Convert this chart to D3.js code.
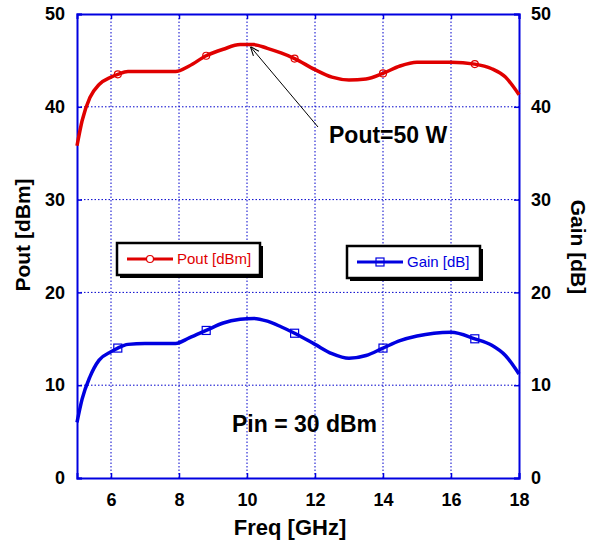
<!DOCTYPE html>
<html>
<head>
<meta charset="utf-8">
<script src="https://cdn.jsdelivr.net/npm/d3@7"></script>
<style>
body { margin: 0; background: #fff; }
text { font-family: "Liberation Sans", Arial, sans-serif; }
</style>
</head>
<body>
<div id="chart"></div>
<script>
// data
const freq = [5, 5.15, 5.38, 5.65, 6, 6.2, 6.5, 7, 7.5, 7.9, 8.3, 8.8, 9.3, 9.8, 10.2, 10.6, 11, 11.4, 12, 12.5, 13, 13.5, 14, 14.5, 15, 15.5, 16, 16.7, 17.2, 17.6, 18];
const pout = [35.8, 38.5, 41.0, 42.4, 43.2, 43.5, 43.8, 43.8, 43.8, 43.8, 44.4, 45.5, 46.2, 46.7, 46.7, 46.3, 45.8, 45.2, 44.0, 43.2, 42.9, 43.0, 43.6, 44.4, 44.8, 44.8, 44.8, 44.6, 44.1, 43.2, 41.3];
const gain = [6.0, 8.5, 10.9, 12.7, 13.6, 14.0, 14.4, 14.5, 14.5, 14.5, 15.1, 15.9, 16.7, 17.1, 17.2, 16.9, 16.3, 15.6, 14.4, 13.4, 12.9, 13.2, 14.0, 14.8, 15.3, 15.6, 15.7, 15.0, 14.3, 13.2, 11.2];
const markerFreq = [6.2, 8.8, 11.4, 14, 16.7];
const xTicks = [6, 8, 10, 12, 14, 16, 18];
const yTicks = [0, 10, 20, 30, 40, 50];

const width = 613, height = 546;
const m = { left: 77, right: 94, top: 14, bottom: 68 };

const svg = d3.select("#chart").append("svg")
    .attr("width", width)
    .attr("height", height);

const x = d3.scaleLinear().domain([5, 18]).range([m.left, width - m.right]);
const y = d3.scaleLinear().domain([0, 50]).range([height - m.bottom, m.top]);
const y2 = d3.scaleLinear().domain([0, 50]).range([height - m.bottom, m.top]);

const blue = "#0000cc";
const red = "#e00000";
const plotBlue = "#0000e0";

// grid
svg.append("g").selectAll("line")
    .data(xTicks.filter(d => d < 18))
    .enter().append("line")
    .attr("x1", d => x(d)).attr("x2", d => x(d))
    .attr("y1", y(0)).attr("y2", y(50))
    .attr("stroke", blue).attr("stroke-width", 1)
    .attr("stroke-dasharray", "1.5,2");

svg.append("g").selectAll("line")
    .data(yTicks.filter(d => d > 0 && d < 50))
    .enter().append("line")
    .attr("x1", x(5)).attr("x2", x(18))
    .attr("y1", d => y(d)).attr("y2", d => y(d))
    .attr("stroke", blue).attr("stroke-width", 1)
    .attr("stroke-dasharray", "1.5,2");

// axes
const bottomAxis = svg.append("g")
    .attr("transform", `translate(0,${y(0)})`)
    .call(d3.axisBottom(x).tickValues(xTicks).tickSize(-5).tickPadding(15));
const topAxis = svg.append("g")
    .attr("transform", `translate(0,${y(50)})`)
    .call(d3.axisTop(x).tickValues(xTicks).tickSize(-5).tickFormat(""));
const leftAxis = svg.append("g")
    .attr("transform", `translate(${x(5)},0)`)
    .call(d3.axisLeft(y).tickValues(yTicks).tickSize(-5).tickPadding(12));
const rightAxis = svg.append("g")
    .attr("transform", `translate(${x(18)},0)`)
    .call(d3.axisRight(y2).tickValues(yTicks).tickSize(-5).tickPadding(12));

[bottomAxis, topAxis, leftAxis, rightAxis].forEach(a => {
    a.select(".domain").attr("stroke", plotBlue).attr("stroke-width", 2);
    a.selectAll(".tick line").attr("stroke", plotBlue).attr("stroke-width", 1.5);
    a.selectAll(".tick text")
        .attr("fill", "#000")
        .style("font-size", "18px")
        .style("font-weight", "bold");
});

// curves
const line = d3.line().curve(d3.curveMonotoneX);

svg.append("path")
    .attr("d", line.x(d => x(d[0])).y(d => y(d[1]))(freq.map((f, i) => [f, pout[i]])))
    .attr("fill", "none").attr("stroke", red).attr("stroke-width", 3.5);

svg.append("path")
    .attr("d", line.x(d => x(d[0])).y(d => y2(d[1]))(freq.map((f, i) => [f, gain[i]])))
    .attr("fill", "none").attr("stroke", plotBlue).attr("stroke-width", 3.5);

const interp = (arr, f) => {
    const i = d3.bisectLeft(freq, f);
    if (freq[i] === f) return arr[i];
    const t = (f - freq[i - 1]) / (freq[i] - freq[i - 1]);
    return arr[i - 1] + t * (arr[i] - arr[i - 1]);
};

// markers
svg.append("g").selectAll("circle")
    .data(markerFreq)
    .enter().append("circle")
    .attr("cx", d => x(d)).attr("cy", d => y(interp(pout, d)))
    .attr("r", 3.5)
    .attr("fill", "none").attr("stroke", red).attr("stroke-width", 1.2);

svg.append("g").selectAll("rect")
    .data(markerFreq)
    .enter().append("rect")
    .attr("x", d => x(d) - 4).attr("y", d => y2(interp(gain, d)) - 4)
    .attr("width", 8).attr("height", 8)
    .attr("fill", "none").attr("stroke", plotBlue).attr("stroke-width", 1.2);

// legends
function legend(x0, y0, w, h, color, label, marker) {
    const g = svg.append("g").attr("transform", `translate(${x0},${y0})`);
    g.append("rect").attr("x", 3).attr("y", 3).attr("width", w).attr("height", h).attr("fill", "#000");
    g.append("rect").attr("x", 0).attr("y", 0).attr("width", w).attr("height", h)
        .attr("fill", "#fff").attr("stroke", "#000").attr("stroke-width", 2.5);
    g.append("line").attr("x1", 10).attr("x2", 56).attr("y1", h / 2).attr("y2", h / 2)
        .attr("stroke", color).attr("stroke-width", 3);
    if (marker === "circle") {
        g.append("circle").attr("cx", 33).attr("cy", h / 2).attr("r", 3.5)
            .attr("fill", "#fff").attr("stroke", color).attr("stroke-width", 1.2);
    } else {
        g.append("rect").attr("x", 29).attr("y", h / 2 - 4).attr("width", 8).attr("height", 8)
            .attr("fill", "none").attr("stroke", color).attr("stroke-width", 1.2);
    }
    g.append("text").attr("x", 60).attr("y", h / 2 + 5)
        .attr("fill", color).style("font-size", "15px").text(label);
}
legend(117, 243, 143, 32, red, "Pout [dBm]", "circle");
legend(347, 246, 133, 32, plotBlue, "Gain [dB]", "square");

// annotations
svg.append("defs").append("marker")
    .attr("id", "arrow").attr("viewBox", "0 0 10 10")
    .attr("refX", 10).attr("refY", 5)
    .attr("markerWidth", 9).attr("markerHeight", 9)
    .attr("orient", "auto")
    .append("path").attr("d", "M0,1 L10,5 L0,9").attr("fill", "none").attr("stroke", "#000").attr("stroke-width", 1.2);

svg.append("line")
    .attr("x1", 318).attr("y1", 127)
    .attr("x2", x(10.1)).attr("y2", y(46.7) + 2)
    .attr("stroke", "#000").attr("stroke-width", 1)
    .attr("marker-end", "url(#arrow)");

svg.append("text").attr("x", 329).attr("y", 143)
    .style("font-size", "23px").style("font-weight", "bold").text("Pout=50 W");

svg.append("text").attr("x", 232).attr("y", 432)
    .style("font-size", "23px").style("font-weight", "bold").text("Pin = 30 dBm");

// axis titles
svg.append("text")
    .attr("x", 290).attr("y", 535)
    .attr("text-anchor", "middle")
    .style("font-size", "22px").style("font-weight", "bold")
    .text("Freq [GHz]");

svg.append("text")
    .attr("transform", `translate(30,235) rotate(-90)`)
    .attr("text-anchor", "middle")
    .style("font-size", "21px").style("font-weight", "bold")
    .text("Pout [dBm]");

svg.append("text")
    .attr("transform", `translate(571,247) rotate(90)`)
    .attr("text-anchor", "middle")
    .style("font-size", "21px").style("font-weight", "bold")
    .text("Gain [dB]");
</script>
</body>
</html>
